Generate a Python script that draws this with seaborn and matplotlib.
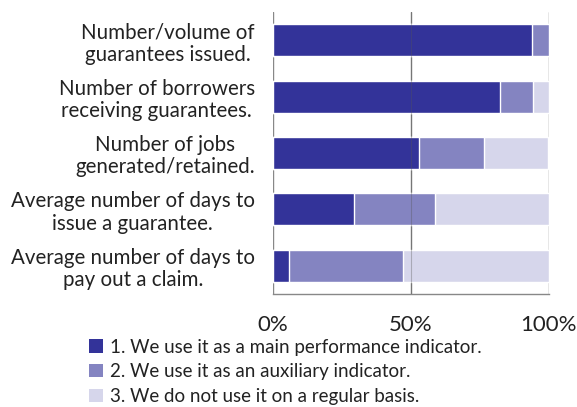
import pandas as pd
import matplotlib
matplotlib.use('Agg')
import matplotlib.pyplot as plt
from matplotlib.patches import Patch
import seaborn as sns

# data (shares of respondents, %)
categories = ['Number/volume of\nguarantees issued.',
              'Number of borrowers\nreceiving guarantees.',
              'Number of jobs\ngenerated/retained.',
              'Average number of days to\nissue a guarantee.',
              'Average number of days to\npay out a claim.']
main_share = [94.1, 82.4, 52.9, 29.4, 5.9]
aux_share = [5.9, 11.8, 23.5, 29.4, 41.2]
none_share = [0.0, 5.9, 23.5, 41.2, 52.9]
series_labels = ['1. We use it as a main performance indicator.',
                 '2. We use it as an auxiliary indicator.',
                 '3. We do not use it on a regular basis.']
colors = ['#333399', '#8484c1', '#d6d6eb']
tick_labels = ['0%', '50%', '100%']

df = pd.DataFrame({'cat': categories, 'main': main_share, 'aux': aux_share, 'none': none_share})
df['c1'] = df['main']
df['c2'] = df['main'] + df['aux']
df['c3'] = df['c2'] + df['none']

sns.set_style('white')
plt.rcParams['font.family'] = ['Lato', 'DejaVu Sans']

fig = plt.figure(figsize=(5.77, 4.07), dpi=100)
ax = fig.add_axes([0.473, 0.278, 0.478, 0.692])

# stacked bars: draw cumulative totals from the back to the front
for col, c in zip(['c3', 'c2', 'c1'], colors[::-1]):
    sns.barplot(data=df, x=col, y='cat', orient='h', color=c, width=0.57,
                saturation=1, ax=ax, zorder=2)

ax.set_xlim(0, 100)
ax.set_ylim(4.5, -0.5)
ax.set_xticks([0, 50, 100])
ax.set_xticklabels(tick_labels, fontsize=16, color='#222222')
ax.tick_params(axis='x', length=0, pad=15)
ax.tick_params(axis='y', length=0, pad=13)
for lab in ax.get_yticklabels():
    lab.set_fontsize(14.8)
    lab.set_color('#222222')
    lab.set_multialignment('center')
    lab.set_linespacing(1.15)
ax.set_xlabel('')
ax.set_ylabel('')

for x in [0, 50, 100]:
    ax.axvline(x, color='#888888', lw=1.0, zorder=1)
ax.axvline(50, color='#555555', lw=0.8, alpha=0.35, zorder=3)
for s in ['top', 'left', 'right']:
    ax.spines[s].set_visible(False)
ax.spines['bottom'].set_color('#888888')
ax.spines['bottom'].set_linewidth(1.0)

handles = [Patch(facecolor=c, edgecolor='none') for c in colors]
fig.legend(handles, series_labels, loc='upper left', bbox_to_anchor=(0.155, 0.168),
           frameon=False, fontsize=13.5, handlelength=0.7, handleheight=0.7,
           handletextpad=0.4, labelspacing=0.41, borderpad=0, borderaxespad=0,
           labelcolor='#222222')

fig.savefig('out.png', dpi=100)
